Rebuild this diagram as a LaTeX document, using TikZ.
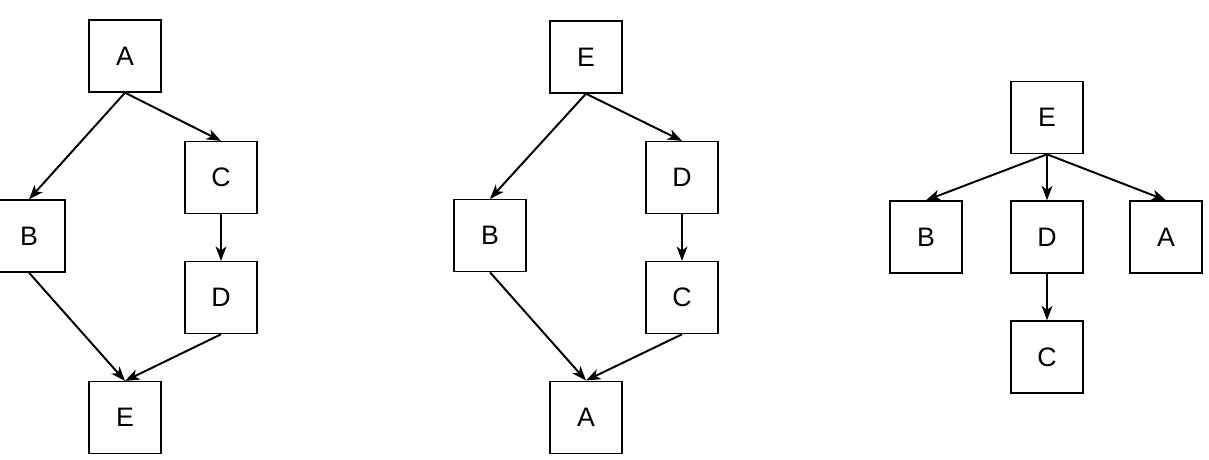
\documentclass[tikz,border=0pt]{standalone}
\usepackage{fontspec}
\setmainfont{Liberation Sans}
\usepackage{tikz}
\usetikzlibrary{arrows.meta,positioning}
\tikzset{
  vbox/.style={rectangle,draw=black,line width=1pt,fill=white,
               minimum size=1.8cm,inner sep=0pt,font=\fontsize{19}{22}\selectfont},
  dep/.style={-{Stealth[length=0.36cm,width=0.27cm,inset=0.1cm]},line width=1.4pt},
}

\begin{document}
\begin{tikzpicture}[every node/.style={vbox}]

    \useasboundingbox (0,0) rectangle (30.225,-11.475);

    % left graph
    \node (la) at (3.125,-1.4)  {A};
    \node (lb) at (0.725,-5.9)  {B};
    \node (lc) at (5.525,-4.44) {C};
    \node (ld) at (5.525,-7.44) {D};
    \node (le) at (3.125,-10.44) {E};

    % middle graph
    \node (me) at (14.65,-1.425) {E};
    \node (mb) at (12.25,-5.89)  {B};
    \node (md) at (17.05,-4.44)  {D};
    \node (mc) at (17.05,-7.44)  {C};
    \node (ma) at (14.65,-10.43) {A};

    % right tree
    \node (re) at (26.175,-2.94)  {E};
    \node (rb) at (23.15,-5.925)  {B};
    \node (rd) at (26.175,-5.925) {D};
    \node (ra) at (29.15,-5.925)  {A};
    \node (rc) at (26.175,-8.925) {C};

    \foreach \a/\b in {la/lb,la/lc,lc/ld,lb/le,ld/le,
                        me/mb,me/md,md/mc,mb/ma,mc/ma,
                        re/rb,re/rd,re/ra,rd/rc}
      \draw[dep] (\a.south) -- (\b.north);

\end{tikzpicture}
\end{document}
